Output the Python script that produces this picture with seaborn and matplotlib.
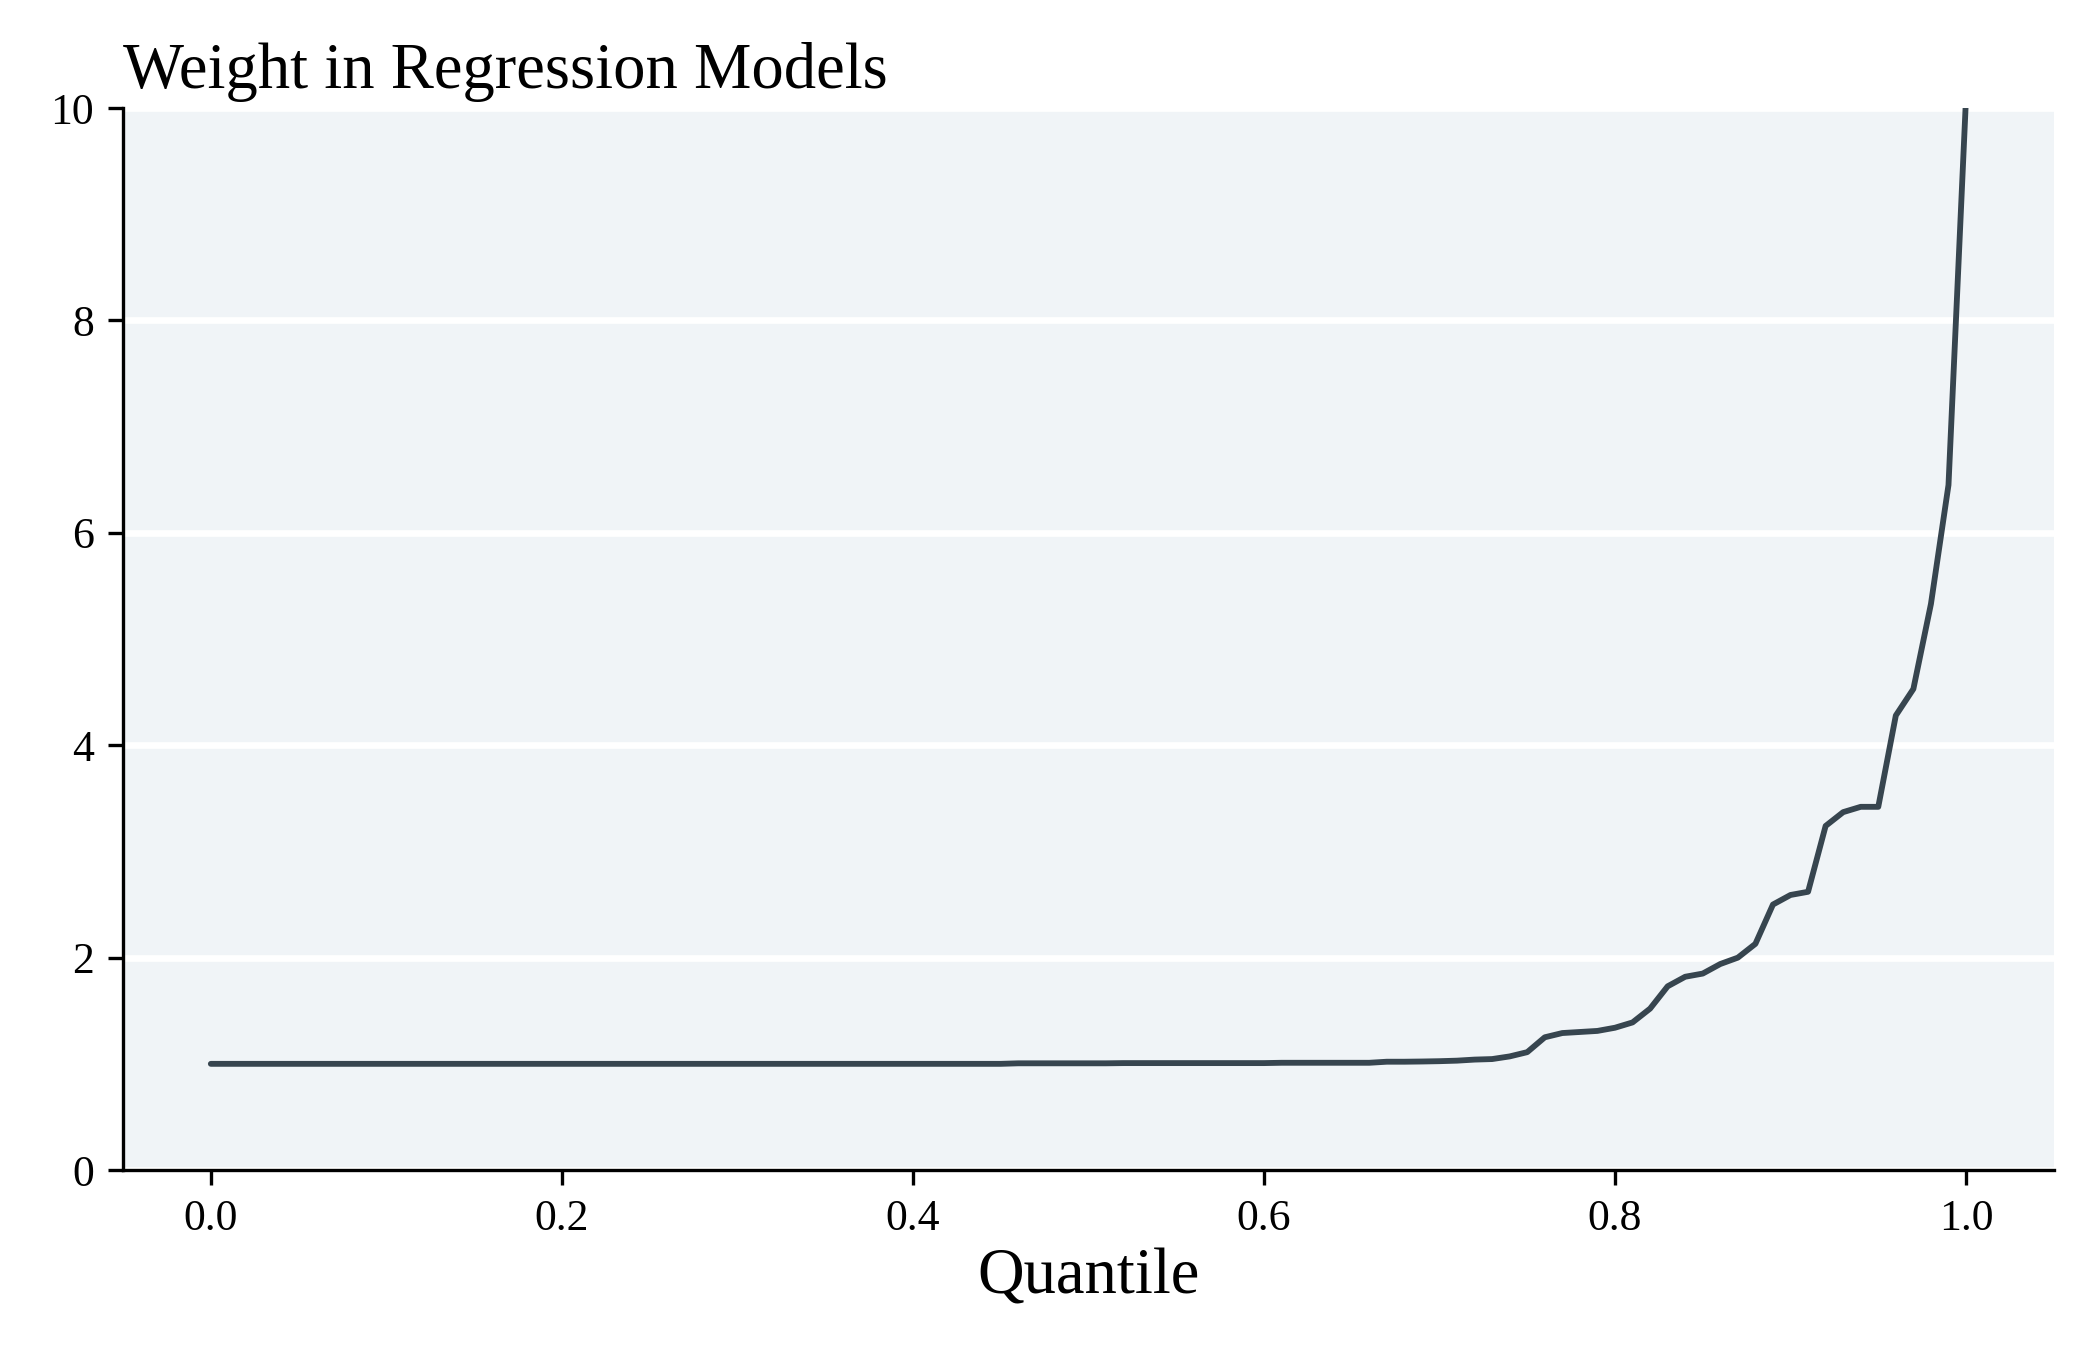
import numpy as np
import pandas as pd
import matplotlib
matplotlib.use("Agg")
import matplotlib.pyplot as plt
import seaborn as sns

quantiles = [round(i / 100, 2) for i in range(101)]
weights = (
    [1.0] * 46                                  # 0.00 - 0.45
    + [1.005] * 6                               # 0.46 - 0.51
    + [1.007] * 9                               # 0.52 - 0.60
    + [1.01] * 6                                # 0.61 - 0.66
    + [1.02, 1.02, 1.022, 1.025, 1.03, 1.04, 1.045, 1.07, 1.11,   # 0.67 - 0.75
       1.25, 1.29, 1.30, 1.31, 1.34, 1.39, 1.52, 1.73, 1.82, 1.85,  # 0.76 - 0.85
       1.94, 2.00, 2.13, 2.50, 2.59, 2.62, 3.24, 3.37, 3.42, 3.42,  # 0.86 - 0.95
       4.28, 4.53, 5.33, 6.45, 10.1]                                 # 0.96 - 1.00
)
title = "Weight in Regression Models"
xlabel = "Quantile"
yticks = [0, 2, 4, 6, 8, 10]
xticks = [0.0, 0.2, 0.4, 0.6, 0.8, 1.0]

df = pd.DataFrame({"quantile": quantiles, "weight": weights})

sns.set_theme(style="ticks")
plt.rcParams["font.family"] = ["Liberation Serif", "DejaVu Serif"]
plt.rcParams["text.color"] = "black"
plt.rcParams["axes.labelcolor"] = "black"

fig = plt.figure(figsize=(7, 4.5), dpi=300)
ax = fig.add_axes([0.0586, 0.1333, 0.9194, 0.7867])
ax.set_facecolor("#f0f4f7")

sns.lineplot(data=df, x="quantile", y="weight", ax=ax, color="#37454f", linewidth=1.4)

ax.set_ylim(0, 10)
ax.set_xlim(-0.05, 1.05)
ax.set_yticks(yticks)
ax.set_yticklabels([str(v) for v in yticks])
ax.set_xticks(xticks)
ax.set_xticklabels([f"{v:.1f}" for v in xticks])
ax.yaxis.grid(True, color="white", linewidth=1.6)
ax.xaxis.grid(False)
ax.set_axisbelow(True)
for s in ["top", "right"]:
    ax.spines[s].set_visible(False)
for s in ["left", "bottom"]:
    ax.spines[s].set_color("black")
    ax.spines[s].set_linewidth(0.8)
ax.tick_params(axis="both", colors="black", labelcolor="black", labelsize=10.5, length=3.5, width=0.8)
ax.set_xlabel(xlabel, fontsize=15.5, labelpad=2, color="black")
ax.set_ylabel("")
ax.set_title(title, loc="left", fontsize=15.5, pad=4.8, color="black")

fig.savefig("out.png", dpi=300, facecolor="white")
